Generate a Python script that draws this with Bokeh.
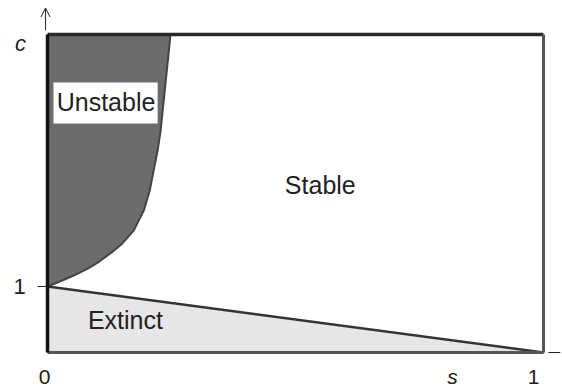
from bokeh.plotting import figure
from bokeh.models import Range1d, Arrow, OpenHead
from bokeh.core.properties import value
from bokeh.embed import file_html
from bokeh.resources import INLINE

# Stability boundary c(s) separating the unstable and stable regions
boundary_s = [0.0, 0.026, 0.054, 0.083, 0.101, 0.130, 0.152, 0.174, 0.194,
              0.206, 0.214, 0.222, 0.228, 0.236, 0.243, 0.248]
boundary_c = [1.0, 1.08, 1.17, 1.28, 1.36, 1.52, 1.66, 1.85, 2.15,
              2.45, 2.76, 3.06, 3.36, 3.94, 4.45, 4.82]

# Extinction boundary: straight line from (0, 1) to (1, 0)
extinct_s = [0.0, 1.0]
extinct_c = [1.0, 0.0]

c_top = 4.82
s_max = 1.0

region_names = ["Unstable", "Stable", "Extinct"]
region_s = [0.118, 0.550, 0.157]
region_c = [3.80, 2.545, 0.485]

x_tick_labels = ["0", "1"]
y_tick_labels = ["1"]
y_tick_values = [1.0]

FONT = value("Liberation Sans")

p = figure(width=562, height=389, output_backend="svg", toolbar_location=None,
           x_range=Range1d(-0.0948, 1.0383), y_range=Range1d(-0.5606, 5.3333),
           min_border=0)
p.axis.visible = False
p.grid.visible = False
p.outline_line_color = None
p.background_fill_color = "white"
p.border_fill_color = "white"

# Unstable region (between the c axis and the boundary curve)
unst_x = boundary_s + [0.0]
unst_y = boundary_c + [c_top]
p.patch(unst_x, unst_y, fill_color="#6c6c6c", line_color=None)

# Extinct region (under the straight boundary)
p.patch([0.0] + extinct_s, [0.0] + extinct_c, fill_color="#e6e6e6", line_color=None)

# Boundaries
p.line(boundary_s, boundary_c, line_color="#444444", line_width=2, line_join="round")
p.line(extinct_s, extinct_c, line_color="#333333", line_width=2.5)

# Frame of the parameter space
p.line([0, s_max], [c_top, c_top], line_color="#2a2a2a", line_width=3.5)
p.line([s_max, s_max], [0, c_top], line_color="#555555", line_width=3)
p.line([0, s_max], [0, 0], line_color="#555555", line_width=3)
p.line([0, 0], [0, c_top], line_color="#111111", line_width=3.5)

# Ticks
for yv in y_tick_values:
    p.line([-0.02, 0.0], [yv, yv], line_color="#222222", line_width=1)
p.line([1.01, 1.034], [0, 0], line_color="#222222", line_width=1)

# c-axis arrow
p.add_layout(Arrow(end=OpenHead(size=9, line_width=1, line_color="#222222"),
                   x_start=-0.004, y_start=4.88, x_end=-0.004, y_end=5.22,
                   line_width=1, line_color="#222222"))

# Region labels
p.quad(left=[0.012], right=[0.222], bottom=[3.47], top=[4.09],
       fill_color="white", line_color=None)
p.text(region_s, region_c, text=region_names, text_font=FONT, text_font_size="25px",
       text_align="center", text_baseline="middle", text_color="#222222")

# Tick labels
p.text([-0.0565], [1.0], text=y_tick_labels, text_font=FONT, text_font_size="22px",
       text_align="center", text_baseline="middle", text_color="#222222")
p.text([-0.006, 0.98], [-0.364, -0.364], text=x_tick_labels, text_font=FONT,
       text_font_size="21px", text_align="center", text_baseline="middle",
       text_color="#222222")

# Axis names
p.text([-0.0544], [4.68], text=["c"], text_font=FONT,
       text_font_size="22px", text_font_style="italic", text_align="center",
       text_baseline="middle", text_color="#222222")
p.text([0.8165], [-0.364], text=["s"], text_font=FONT,
       text_font_size="21px", text_font_style="italic", text_align="center",
       text_baseline="middle", text_color="#222222")

open("out.html", "w").write(file_html(p, INLINE))
